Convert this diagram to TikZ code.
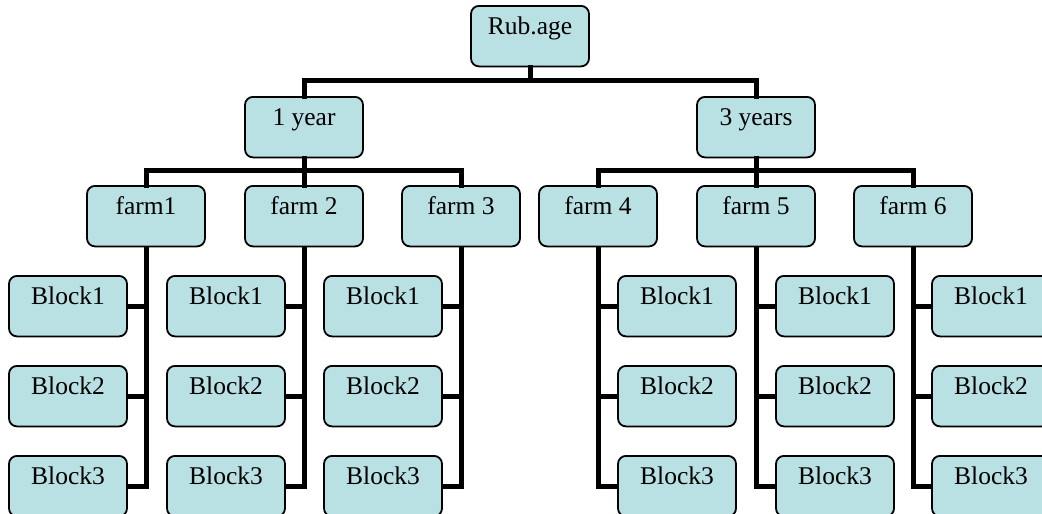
\documentclass[tikz,border=0pt]{standalone}
\usepackage{fontspec}
\setmainfont{Liberation Serif}
\definecolor{boxfill}{RGB}{185,224,227}
\begin{document}
\begin{tikzpicture}[x=1pt,y=-1pt,
  orgbox/.style={draw=black,line width=1.8pt,fill=boxfill,rounded corners=8pt,
    anchor=north,minimum width=118pt,inner xsep=0pt,inner ysep=0pt,
    text height=28.5pt,text depth=32pt,
    font=\fontsize{25.5}{28}\selectfont},
  link/.style={line width=5pt,draw=black,line join=miter,line cap=rect}]
\useasboundingbox (0,0) rectangle (1042,514);
\clip (0,0) rectangle (1042,514);
% top
\node[orgbox] (root) at (530,5) {Rub.age};
\node[orgbox] (y1) at (304,96) {1 year};
\node[orgbox] (y3) at (756,96) {3 years};
% farms
\node[orgbox] (f1) at (146,185) {farm1};
\node[orgbox] (f2) at (304,185) {farm 2};
\node[orgbox] (f3) at (461,185) {farm 3};
\node[orgbox] (f4) at (598,185) {farm 4};
\node[orgbox] (f5) at (756,185) {farm 5};
\node[orgbox] (f6) at (913,185) {farm 6};
% blocks, left group (blocks to the left of the stem)
\foreach \f/\x in {f1/68,f2/226,f3/383}{
  \node[orgbox] (\f b1) at (\x,275) {Block1};
  \node[orgbox] (\f b2) at (\x,365) {Block2};
  \node[orgbox] (\f b3) at (\x,455) {Block3};
}
% blocks, right group (blocks to the right of the stem)
\foreach \f/\x in {f4/677,f5/835,f6/991}{
  \node[orgbox] (\f b1) at (\x,275) {Block1};
  \node[orgbox] (\f b2) at (\x,365) {Block2};
  \node[orgbox] (\f b3) at (\x,455) {Block3};
}
% connectors
\coordinate (r1) at (530,80.5);
\coordinate (r2) at (530,170.5);
\draw[link] (root.south) -- (r1);
\draw[link] (y1.north) |- (r1) -| (y3.north);
\draw[link] (y1.south) -- (y1.south |- r2);
\draw[link] (y3.south) -- (y3.south |- r2);
\draw[link] (f1.north) |- (y1.south |- r2) -| (f3.north);
\draw[link] (f2.north) -- (f2.north |- r2);
\draw[link] (f4.north) |- (y3.south |- r2) -| (f6.north);
\draw[link] (f5.north) -- (f5.north |- r2);
\foreach \f in {f1,f2,f3}{
  \draw[link,line cap=butt] (\f.south) |- (\f b3.east);
  \draw[link,line cap=butt] (\f b1.east) -- (\f b1.east -| \f.south);
  \draw[link,line cap=butt] (\f b2.east) -- (\f b2.east -| \f.south);
}
\foreach \f in {f4,f5,f6}{
  \draw[link,line cap=butt] (\f.south) |- (\f b3.west);
  \draw[link,line cap=butt] (\f b1.west) -- (\f b1.west -| \f.south);
  \draw[link,line cap=butt] (\f b2.west) -- (\f b2.west -| \f.south);
}
\end{tikzpicture}
\end{document}
